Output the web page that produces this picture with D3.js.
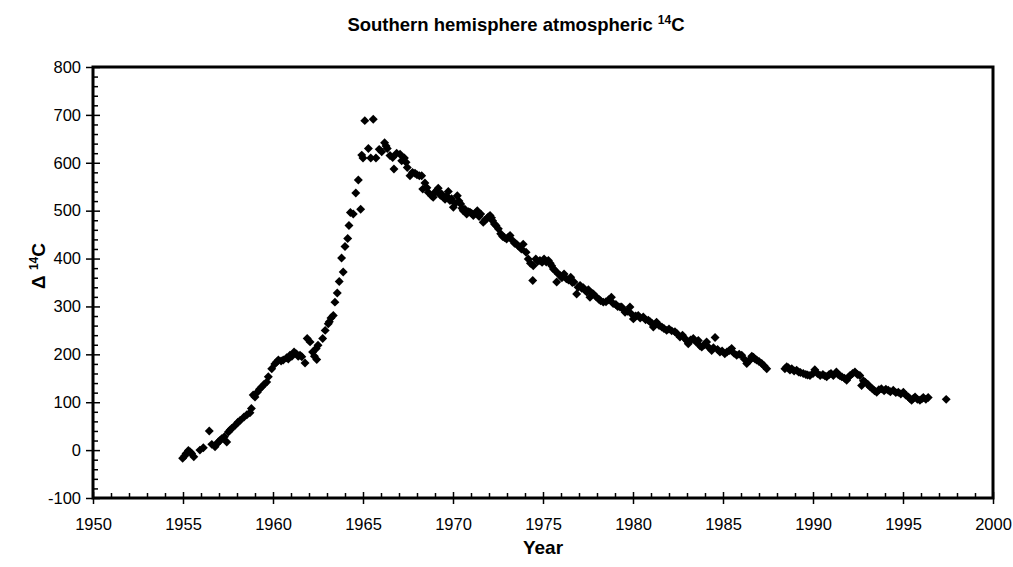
<!DOCTYPE html>
<html>
<head>
<meta charset="utf-8">
<script src="https://cdn.jsdelivr.net/npm/d3@7"></script>
<style>
  body { margin: 0; background: #fff; }
  text { font-family: "Liberation Sans", Arial, sans-serif; fill: #000; }
</style>
</head>
<body>
<div id="chart"></div>
<script>
// decimal year of each sample
const years = [
  1954.98, 1955.10, 1955.17, 1955.30, 1955.40, 1955.48, 1955.60, 1955.94, 1956.13, 1956.46,
  1956.60, 1956.78, 1956.90, 1956.96, 1957.06, 1957.15, 1957.30, 1957.43, 1957.52, 1957.62,
  1957.70, 1957.90, 1958.05, 1958.17, 1958.39, 1958.55, 1958.72, 1958.80, 1958.90, 1959.00,
  1959.13, 1959.25, 1959.37, 1959.50, 1959.65, 1959.74, 1959.93, 1960.10, 1960.20, 1960.30,
  1960.45, 1960.57, 1960.76, 1960.85, 1960.94, 1961.05, 1961.17, 1961.30, 1961.40, 1961.50,
  1961.60, 1961.78, 1961.90, 1962.06, 1962.20, 1962.30, 1962.40, 1962.43, 1962.50, 1962.76,
  1962.90, 1963.07, 1963.13, 1963.22, 1963.35, 1963.44, 1963.57, 1963.68, 1963.81, 1963.90,
  1964.00, 1964.15, 1964.22, 1964.30, 1964.46, 1964.60, 1964.74, 1964.87, 1964.93, 1965.00,
  1965.10, 1965.30, 1965.43, 1965.57, 1965.72, 1965.90, 1966.04, 1966.20, 1966.28, 1966.35,
  1966.50, 1966.65, 1966.72, 1966.87, 1967.06, 1967.15, 1967.30, 1967.39, 1967.46, 1967.61,
  1967.75, 1967.89, 1968.00, 1968.13, 1968.26, 1968.32, 1968.44, 1968.55, 1968.63, 1968.81,
  1968.90, 1969.00, 1969.09, 1969.18, 1969.30, 1969.37, 1969.46, 1969.56, 1969.65, 1969.74,
  1969.83, 1969.92, 1970.02, 1970.12, 1970.24, 1970.33, 1970.43, 1970.50, 1970.57, 1970.66,
  1970.76, 1970.85, 1970.94, 1971.04, 1971.13, 1971.25, 1971.35, 1971.45, 1971.54, 1971.68,
  1971.78, 1971.87, 1971.96, 1972.06, 1972.14, 1972.20, 1972.30, 1972.39, 1972.52, 1972.65,
  1972.76, 1972.86, 1972.98, 1973.08, 1973.17, 1973.30, 1973.42, 1973.54, 1973.63, 1973.72,
  1973.80, 1973.90, 1974.06, 1974.18, 1974.30, 1974.43, 1974.46, 1974.60, 1974.70, 1974.83,
  1974.95, 1975.06, 1975.18, 1975.30, 1975.40, 1975.48, 1975.58, 1975.67, 1975.76, 1975.85,
  1975.94, 1976.05, 1976.17, 1976.30, 1976.42, 1976.54, 1976.63, 1976.72, 1976.87, 1976.95,
  1977.06, 1977.15, 1977.24, 1977.34, 1977.43, 1977.52, 1977.61, 1977.70, 1977.80, 1977.95,
  1978.10, 1978.20, 1978.35, 1978.50, 1978.65, 1978.80, 1978.90, 1979.05, 1979.15, 1979.28,
  1979.37, 1979.46, 1979.56, 1979.70, 1979.83, 1979.92, 1980.02, 1980.15, 1980.29, 1980.40,
  1980.57, 1980.70, 1980.85, 1980.95, 1981.05, 1981.13, 1981.22, 1981.31, 1981.45, 1981.60,
  1981.72, 1981.87, 1982.00, 1982.15, 1982.33, 1982.45, 1982.61, 1982.75, 1982.88, 1982.98,
  1983.07, 1983.20, 1983.35, 1983.50, 1983.63, 1983.72, 1983.82, 1983.95, 1984.09, 1984.20,
  1984.37, 1984.47, 1984.56, 1984.70, 1984.83, 1984.95, 1985.10, 1985.22, 1985.35, 1985.48,
  1985.62, 1985.76, 1985.90, 1986.04, 1986.18, 1986.32, 1986.42, 1986.50, 1986.60, 1986.69,
  1986.78, 1986.87, 1987.00, 1987.15, 1987.28, 1987.43,
  1988.44, 1988.54, 1988.63, 1988.72, 1988.82, 1988.95, 1989.09, 1989.20, 1989.30, 1989.46,
  1989.60, 1989.70, 1989.83, 1990.00, 1990.10, 1990.25, 1990.40, 1990.55, 1990.66, 1990.76,
  1990.90, 1991.00, 1991.13, 1991.30, 1991.40, 1991.50, 1991.60, 1991.75, 1991.87, 1991.97,
  1992.06, 1992.20, 1992.33, 1992.47, 1992.60, 1992.70, 1992.80, 1992.90, 1993.05, 1993.17,
  1993.30, 1993.42, 1993.54, 1993.66, 1993.80, 1993.95, 1994.05, 1994.18, 1994.30, 1994.46,
  1994.60, 1994.74, 1994.88, 1995.02, 1995.15, 1995.30, 1995.40, 1995.48, 1995.58, 1995.67,
  1995.80, 1995.94, 1996.05, 1996.13, 1996.27, 1996.40, 1997.40
];

// Δ14C (per mil) for each sample
const delta14C = [
  -17, -12, -7, -1, -4, -7, -14, 0, 5, 40,
  12, 7, 14, 17, 20, 24, 28, 17, 38, 42,
  45, 52, 58, 62, 69, 74, 78, 87, 115, 111,
  121, 127, 132, 137, 142, 153, 170, 180, 184, 188,
  186, 188, 193, 190, 198, 196, 205, 201, 196, 198,
  195, 182, 233, 226, 205, 196, 212, 189, 219, 233,
  250, 264, 268, 276, 281, 309, 328, 352, 401, 372,
  425, 442, 469, 496, 493, 537, 564, 503, 616, 610,
  688, 630, 610, 691, 610, 628, 623, 642, 635, 630,
  615, 611, 587, 620, 618, 604, 610, 601, 590, 573,
  580, 578, 575, 573, 573, 545, 558, 548, 538, 531,
  528, 538, 542, 547, 532, 535, 528, 524, 530, 540,
  521, 525, 507, 515, 531, 520, 514, 505, 500, 503,
  493, 498, 497, 494, 490, 495, 500, 488, 493, 476,
  480, 483, 487, 490, 485, 479, 472, 469, 462, 452,
  446, 444, 441, 445, 448, 438, 432, 430, 426, 424,
  420, 430, 413, 399, 390, 354, 385, 399, 394, 396,
  392, 399, 393, 396, 390, 385, 378, 375, 351, 368,
  365, 360, 368, 358, 355, 361, 350, 351, 326, 340,
  344, 338, 339, 334, 330, 335, 319, 328, 326, 320,
  315, 312, 309, 310, 314, 319, 306, 304, 300, 299,
  299, 294, 288, 290, 299, 284, 274, 280, 281, 276,
  278, 272, 271, 268, 265, 257, 262, 267, 260, 257,
  254, 250, 253, 249, 247, 243, 236, 240, 233, 229,
  222, 230, 233, 226, 229, 218, 215, 220, 226, 215,
  208, 214, 235, 210, 205, 207, 201, 205, 208, 212,
  202, 198, 200, 198, 190, 181, 186, 188, 196, 194,
  190, 188, 185, 181, 176, 170,
  170, 174, 172, 167, 170, 165, 167, 163, 162, 160,
  158, 157, 156, 160, 168, 160, 156, 158, 155, 153,
  158, 160, 156, 163, 158, 155, 153, 150, 146, 152,
  156, 160, 163, 158, 156, 135, 145, 142, 137, 132,
  128, 124, 121, 126, 128, 124, 127, 125, 122, 125,
  120, 121, 117, 121, 115, 111, 107, 104, 108, 111,
  106, 104, 107, 110, 106, 110, 106
];

const xTicks = d3.range(1950, 2001, 5);
const yTicks = d3.range(-100, 801, 100);
const xMinorTicks = d3.range(1950, 2001, 1).filter(v => v % 5 !== 0);
const yMinorTicks = d3.range(-100, 801, 20).filter(v => v % 100 !== 0);

const width = 1013;
const height = 567;
const margin = { top: 67, right: 20, bottom: 69, left: 93 };
const innerW = width - margin.left - margin.right;
const innerH = height - margin.top - margin.bottom;

const svg = d3.select('#chart')
    .append('svg')
    .attr('width', width)
    .attr('height', height);

const g = svg.append('g')
    .attr('transform', `translate(${margin.left},${margin.top})`);

const x = d3.scaleLinear().domain([1950, 2000]).range([0, innerW]);
const y = d3.scaleLinear().domain([-100, 800]).range([innerH, 0]);

// minor ticks, pointing inward
g.append('g')
    .attr('transform', `translate(0,${innerH})`)
    .call(d3.axisBottom(x).tickValues(xMinorTicks).tickSize(-5).tickSizeOuter(0).tickFormat(''))
    .call(a => a.select('.domain').remove());

g.append('g')
    .call(d3.axisLeft(y).tickValues(yMinorTicks).tickSize(-5).tickSizeOuter(0).tickFormat(''))
    .call(a => a.select('.domain').remove());

// major ticks, crossing the axis
const xAxis = g.append('g')
    .attr('transform', `translate(0,${innerH})`)
    .call(d3.axisBottom(x).tickValues(xTicks).tickSize(6).tickSizeOuter(0).tickPadding(14).tickFormat(d => String(d)))
    .attr('font-size', 16.5)
    .attr('font-family', '"Liberation Sans", Arial, sans-serif');
xAxis.select('.domain').remove();
xAxis.selectAll('.tick line').attr('y1', -6);

const yAxis = g.append('g')
    .call(d3.axisLeft(y).tickValues(yTicks).tickSize(7).tickSizeOuter(0).tickPadding(5).tickFormat(d => String(d)))
    .attr('font-size', 16.5)
    .attr('font-family', '"Liberation Sans", Arial, sans-serif');
yAxis.select('.domain').remove();
yAxis.selectAll('.tick line').attr('x1', 7);

g.selectAll('.tick line').attr('stroke', '#000').attr('stroke-width', 1.5);

// frame
g.append('rect')
    .attr('width', innerW)
    .attr('height', innerH)
    .attr('fill', 'none')
    .attr('stroke', '#000')
    .attr('stroke-width', 3);

// points
const diamond = d3.symbol(d3.symbolSquare, 40);
g.append('g')
    .selectAll('path')
    .data(d3.zip(years, delta14C))
    .join('path')
    .attr('d', diamond)
    .attr('transform', d => `translate(${x(d[0])},${y(d[1])}) rotate(45)`)
    .attr('fill', '#000');

// title
const title = svg.append('text')
    .attr('x', 516)
    .attr('y', 31)
    .attr('text-anchor', 'middle')
    .style('font-weight', 'bold')
    .style('font-size', '18.5px');
title.append('tspan').text('Southern hemisphere atmospheric ');
title.append('tspan').attr('dy', -7).style('font-size', '12px').text('14');
title.append('tspan').attr('dy', 7).text('C');

// x label
svg.append('text')
    .attr('x', margin.left + innerW / 2)
    .attr('y', 554)
    .attr('text-anchor', 'middle')
    .style('font-weight', 'bold')
    .style('font-size', '19px')
    .text('Year');

// y label
const yLabel = svg.append('text')
    .attr('transform', 'translate(45,266) rotate(-90)')
    .attr('text-anchor', 'middle')
    .style('font-weight', 'bold')
    .style('font-size', '19px');
yLabel.append('tspan').text('Δ ');
yLabel.append('tspan').attr('dy', -7).style('font-size', '12px').text('14');
yLabel.append('tspan').attr('dy', 7).text('C');
</script>
</body>
</html>
